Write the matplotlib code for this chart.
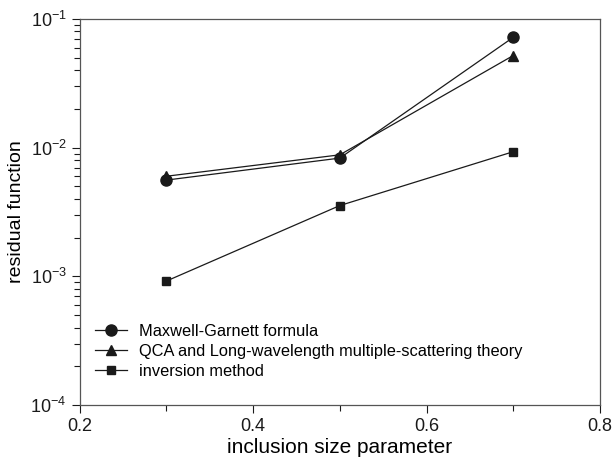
import numpy as np
import matplotlib
matplotlib.use('Agg')
import matplotlib.pyplot as plt
from matplotlib.ticker import LogLocator, NullFormatter, FixedLocator

plt.rcParams['font.family'] = ['Liberation Sans', 'DejaVu Sans']
plt.rcParams['mathtext.fontset'] = 'custom'
plt.rcParams['mathtext.rm'] = 'Liberation Sans'
plt.rcParams['mathtext.it'] = 'Liberation Sans'

size_param = [0.3, 0.5, 0.7]
maxwell_garnett = [5.6e-3, 8.3e-3, 7.2e-2]
qca_lw = [6.0e-3, 8.8e-3, 5.2e-2]
inversion = [9.2e-4, 3.55e-3, 9.3e-3]

labels = ['Maxwell-Garnett formula',
          'QCA and Long-wavelength multiple-scattering theory',
          'inversion method']

fig = plt.figure(figsize=(6.14, 4.59), dpi=100)
ax = fig.add_axes([0.130, 0.1176, 0.847, 0.841])

ax.plot(size_param, maxwell_garnett, '-o', color='#1a1a1a', lw=0.9, ms=8, label=labels[0])
ax.plot(size_param, qca_lw, '-^', color='#1a1a1a', lw=0.9, ms=7, label=labels[1])
ax.plot(size_param, inversion, '-s', color='#1a1a1a', lw=0.9, ms=5.5, label=labels[2])

ax.set_yscale('log')
ax.set_xlim(0.2, 0.8)
ax.set_ylim(1e-4, 1e-1)
ax.set_xticks([0.2, 0.4, 0.6, 0.8])
ax.set_xticklabels(['0.2', '0.4', '0.6', '0.8'])
ax.xaxis.set_minor_locator(FixedLocator([0.3, 0.5, 0.7]))
ax.yaxis.set_major_locator(FixedLocator([1e-4, 1e-3, 1e-2, 1e-1]))
ax.set_yticklabels([r'$10^{-4}$', r'$10^{-3}$', r'$10^{-2}$', r'$10^{-1}$'])
ax.yaxis.set_minor_locator(LogLocator(base=10, subs=np.arange(2, 10)))
ax.yaxis.set_minor_formatter(NullFormatter())

ax.tick_params(which='both', direction='out', top=False, right=False, labelsize=13, colors='#1a1a1a')
ax.tick_params(which='major', length=6, width=0.8)
ax.tick_params(which='minor', length=4, width=0.8)
for s in ax.spines.values():
    s.set_color('#555555')
    s.set_linewidth(0.9)

ax.set_xlabel('inclusion size parameter', fontsize=15, labelpad=2)
ax.set_ylabel('residual function', fontsize=14, labelpad=4)

ax.legend(loc='lower left', bbox_to_anchor=(0.0, 0.03), frameon=False, fontsize=11.8,
          handlelength=2.0, handletextpad=0.7, labelspacing=0.3)

plt.savefig('out.png', dpi=100)
